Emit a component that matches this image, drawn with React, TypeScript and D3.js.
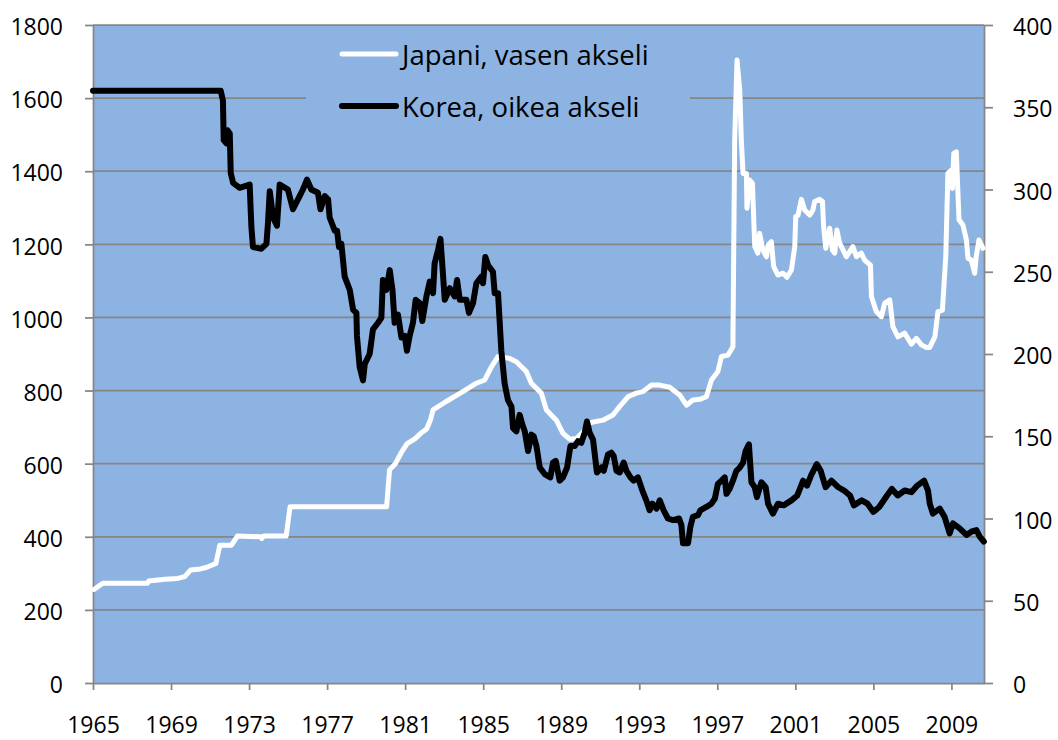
import React, { useEffect, useRef } from 'react';
import * as d3 from 'd3';

// tick labels
const xTickYears = [1965, 1969, 1973, 1977, 1981, 1985, 1989, 1993, 1997, 2001, 2005, 2009];
const leftTicks = [0, 200, 400, 600, 800, 1000, 1200, 1400, 1600, 1800];
const rightTicks = [0, 50, 100, 150, 200, 250, 300, 350, 400];
const legendLabels = ['Japani, vasen akseli', 'Korea, oikea akseli'];

// Japani (left axis)
const japanYears = [
  1965.05, 1965.5, 1967.8, 1967.85, 1968.7, 1969.35, 1969.7, 1970.0, 1970.5, 1970.8,
  1971.3, 1971.5, 1972.1, 1972.4, 1973.6, 1973.65, 1973.75, 1974.9, 1975.1, 1980.05,
  1980.2, 1980.5, 1980.8, 1981.1, 1981.5, 1981.8, 1982.1, 1982.3, 1982.43, 1983.1,
  1983.96, 1984.65, 1985.08, 1985.42, 1985.76, 1986.36, 1986.7, 1987.21, 1987.47, 1987.98,
  1988.24, 1988.75, 1989.09, 1989.43, 1989.78, 1990.12, 1990.46, 1991.14, 1991.65, 1991.99,
  1992.42, 1992.85, 1993.19, 1993.62, 1994.05, 1994.56, 1995.07, 1995.42, 1995.75, 1996.1,
  1996.44, 1996.7, 1997.03, 1997.21, 1997.55, 1997.8, 1997.89, 1998.01, 1998.15, 1998.23,
  1998.32, 1998.49, 1998.52, 1998.66, 1998.8, 1998.92, 1999.08, 1999.17, 1999.34, 1999.52,
  1999.6, 1999.77, 1999.89, 2000.11, 2000.37, 2000.57, 2000.8, 2000.97, 2001.02, 2001.14,
  2001.31, 2001.48, 2001.74, 2001.9, 2001.99, 2002.25, 2002.39, 2002.45, 2002.56, 2002.76,
  2002.9, 2003.02, 2003.13, 2003.27, 2003.62, 2003.95, 2004.13, 2004.38, 2004.55, 2004.85,
  2004.9, 2005.15, 2005.41, 2005.58, 2005.84, 2006.0, 2006.26, 2006.6, 2006.95, 2007.2,
  2007.46, 2007.72, 2007.89, 2008.15, 2008.31, 2008.54, 2008.71, 2008.82, 2009.0, 2009.05,
  2009.12, 2009.25, 2009.39, 2009.59, 2009.77, 2009.85, 2010.02, 2010.19, 2010.27, 2010.41,
  2010.62,
];
const japanValues = [
  256, 273, 273, 279, 284, 286, 291, 309, 312, 316,
  327, 377, 377, 402, 400, 395, 402, 402, 482, 482,
  583, 600, 630, 655, 668, 683, 695, 720, 747, 770,
  797, 820, 829, 865, 893, 888, 879, 852, 820, 793,
  747, 719, 683, 667, 669, 687, 712, 719, 733, 756,
  783, 793, 797, 815, 815, 809, 788, 760, 774, 776,
  783, 829, 852, 893, 897, 920, 1485, 1704, 1622, 1485,
  1394, 1394, 1299, 1376, 1367, 1194, 1176, 1230, 1184, 1166,
  1198, 1207, 1139, 1116, 1121, 1110, 1130, 1194, 1276, 1280,
  1323, 1294, 1280, 1294, 1317, 1323, 1317, 1248, 1189, 1244,
  1184, 1176, 1239, 1203, 1166, 1194, 1166, 1176, 1157, 1143,
  1057, 1016, 1002, 1039, 1048, 975, 947, 957, 927, 943,
  925, 918, 918, 947, 1016, 1020, 1166, 1394, 1403, 1353,
  1449, 1453, 1267, 1253, 1212, 1162, 1157, 1121, 1166, 1212,
  1189,
];

// Korea (right axis)
const koreaYears = [
  1965.0, 1971.55, 1971.66, 1971.7, 1971.84, 1971.89, 1972.01, 1972.06, 1972.18, 1972.52,
  1973.03, 1973.12, 1973.2, 1973.63, 1973.89, 1973.97, 1974.06, 1974.23, 1974.43, 1974.57,
  1974.99, 1975.25, 1975.59, 1975.76, 1975.97, 1976.19, 1976.53, 1976.66, 1976.88, 1977.05,
  1977.13, 1977.39, 1977.51, 1977.61, 1977.73, 1977.9, 1978.16, 1978.33, 1978.5, 1978.53,
  1978.67, 1978.84, 1978.93, 1979.18, 1979.35, 1979.61, 1979.78, 1979.86, 1980.04, 1980.21,
  1980.35, 1980.46, 1980.63, 1980.81, 1980.98, 1981.09, 1981.23, 1981.4, 1981.54, 1981.75,
  1981.88, 1982.09, 1982.26, 1982.43, 1982.51, 1982.68, 1982.81, 1983.03, 1983.29, 1983.54,
  1983.66, 1983.8, 1984.14, 1984.27, 1984.48, 1984.65, 1984.91, 1984.99, 1985.11, 1985.25,
  1985.5, 1985.59, 1985.76, 1985.93, 1986.1, 1986.27, 1986.45, 1986.53, 1986.7, 1986.87,
  1987.01, 1987.13, 1987.3, 1987.47, 1987.59, 1987.73, 1987.9, 1988.15, 1988.44, 1988.58,
  1988.72, 1988.92, 1989.09, 1989.3, 1989.47, 1989.69, 1989.86, 1990.03, 1990.2, 1990.32,
  1990.46, 1990.63, 1990.83, 1991.06, 1991.18, 1991.4, 1991.57, 1991.69, 1991.83, 1992.0,
  1992.2, 1992.34, 1992.55, 1992.71, 1992.93, 1993.16, 1993.36, 1993.53, 1993.67, 1993.88,
  1994.05, 1994.25, 1994.47, 1994.73, 1995.04, 1995.16, 1995.24, 1995.5, 1995.62, 1995.75,
  1996.01, 1996.13, 1996.44, 1996.7, 1996.87, 1997.03, 1997.21, 1997.38, 1997.47, 1997.63,
  1997.8, 1997.98, 1998.15, 1998.32, 1998.45, 1998.62, 1998.75, 1998.92, 1999.03, 1999.26,
  1999.48, 1999.6, 1999.85, 2000.11, 2000.4, 2000.8, 2001.1, 2001.4, 2001.6, 2001.8,
  2002.1, 2002.3, 2002.55, 2002.85, 2003.2, 2003.5, 2003.8, 2004.0, 2004.4, 2004.7,
  2005.0, 2005.3, 2005.7, 2005.95, 2006.25, 2006.6, 2006.95, 2007.25, 2007.6, 2007.8,
  2007.89, 2008.05, 2008.4, 2008.65, 2008.91, 2009.08, 2009.42, 2009.77, 2010.02, 2010.28,
  2010.45, 2010.66,
];
const koreaValues = [
  360, 360, 354, 330, 328, 336, 334, 310, 304, 301,
  303, 277, 265, 264, 267, 280, 299, 283, 278, 303,
  300, 288, 296, 300, 306, 300, 298, 288, 296, 294,
  283, 275, 275, 265, 267, 247, 239, 227, 225, 211,
  192, 184, 194, 200, 215, 219, 222, 245, 239, 251,
  239, 219, 224, 210, 211, 202, 211, 219, 233, 231,
  220, 235, 244, 237, 255, 263, 270, 233, 240, 235,
  245, 233, 233, 225, 231, 243, 247, 243, 259, 254,
  250, 237, 237, 202, 182, 172, 168, 155, 153, 163,
  157, 153, 141, 151, 150, 144, 131, 127, 125, 134,
  135, 123, 125, 131, 144, 144, 147, 146, 152, 159,
  152, 148, 128, 131, 129, 139, 140, 138, 129, 128,
  134, 129, 125, 123, 125, 117, 111, 105, 109, 106,
  111, 105, 100, 99, 100, 96, 85, 85, 95, 101,
  102, 105, 107, 109, 112, 121, 123, 125, 115, 118,
  123, 129, 131, 134, 141, 145, 122, 119, 113, 122,
  119, 109, 103, 109, 108, 111, 114, 123, 120, 126,
  133, 129, 119, 123, 119, 117, 114, 108, 111, 109,
  104, 107, 114, 118, 114, 117, 116, 120, 123, 117,
  109, 103, 106, 101, 91, 97, 94, 90, 92, 93,
  89, 86,
];

const FONT = "'Open Sans', 'Noto Sans', sans-serif";
const PLOT_BG = '#8DB3E2';
const GRID = '#868686';

export default function App() {
  const svgRef = useRef<SVGSVGElement>(null);

  useEffect(() => {
    const svg = d3.select(svgRef.current);
    svg.selectAll('*').remove();

    const left = 93, right = 984, top = 25, bottom = 683;

    const x = d3.scaleLinear().domain([1965, 2010.67]).range([left, right]);
    const yLeft = d3.scaleLinear().domain([0, 1800]).range([bottom, top]);
    const yRight = d3.scaleLinear().domain([0, 400]).range([bottom, top]);

    svg.append('rect')
      .attr('x', left).attr('y', top)
      .attr('width', right - left).attr('height', bottom - top)
      .attr('fill', PLOT_BG);

    // gridlines
    svg.append('g').selectAll('line')
      .data(leftTicks.filter((t) => t > 0))
      .enter()
      .append('line')
      .attr('x1', left).attr('x2', right)
      .attr('y1', (d) => yLeft(d)).attr('y2', (d) => yLeft(d))
      .attr('stroke', GRID).attr('stroke-width', 1.75);

    // legend box hides gridlines behind it
    svg.append('rect')
      .attr('x', 306).attr('y', 27)
      .attr('width', 384).attr('height', 103)
      .attr('fill', PLOT_BG);

    const styleAxis = (g) => {
      g.attr('font-family', FONT).attr('font-size', 23);
      g.selectAll('path, line').attr('stroke', GRID).attr('stroke-width', 1.75);
      g.selectAll('text').attr('fill', '#000');
    };

    const xAxis = svg.append('g')
      .attr('transform', `translate(0,${bottom})`)
      .call(d3.axisBottom(x).tickValues(xTickYears).tickFormat(d3.format('d')).tickSize(7).tickSizeOuter(0));
    styleAxis(xAxis);
    xAxis.selectAll('text').attr('y', 50).attr('dy', null);

    const lAxis = svg.append('g')
      .attr('transform', `translate(${left},0)`)
      .call(d3.axisLeft(yLeft).tickValues(leftTicks).tickFormat(d3.format('d')).tickSize(8).tickPadding(22).tickSizeOuter(0));
    styleAxis(lAxis);
    lAxis.selectAll('text').attr('dy', '0.42em');

    const rAxis = svg.append('g')
      .attr('transform', `translate(${right},0)`)
      .call(d3.axisRight(yRight).tickValues(rightTicks).tickFormat(d3.format('d')).tickSize(9).tickPadding(20).tickSizeOuter(0));
    styleAxis(rAxis);
    rAxis.selectAll('text').attr('dy', '0.42em');

    const japan = japanYears.map((yr, i) => [yr, japanValues[i]]);
    const korea = koreaYears.map((yr, i) => [yr, koreaValues[i]]);

    const lineLeft = d3.line().x((d) => x(d[0])).y((d) => yLeft(d[1]));
    const lineRight = d3.line().x((d) => x(d[0])).y((d) => yRight(d[1]));

    svg.append('path')
      .datum(japan)
      .attr('d', lineLeft)
      .attr('fill', 'none')
      .attr('stroke', '#fff')
      .attr('stroke-width', 5)
      .attr('stroke-linejoin', 'round')
      .attr('stroke-linecap', 'round');

    svg.append('path')
      .datum(korea)
      .attr('d', lineRight)
      .attr('fill', 'none')
      .attr('stroke', '#000')
      .attr('stroke-width', 6)
      .attr('stroke-linejoin', 'round')
      .attr('stroke-linecap', 'round');

    // legend
    const legendColors = ['#fff', '#000'];
    const legend = svg.append('g');
    legendLabels.forEach((label, i) => {
      const ly = 54 + i * 52;
      legend.append('line')
        .attr('x1', 342).attr('x2', 396)
        .attr('y1', ly).attr('y2', ly)
        .attr('stroke', legendColors[i])
        .attr('stroke-width', i === 0 ? 5 : 6)
        .attr('stroke-linecap', 'round');
      legend.append('text')
        .attr('x', 402).attr('y', ly + 11)
        .attr('font-family', FONT).attr('font-size', 27.5)
        .attr('fill', '#000')
        .text(label);
    });
  }, []);

  return (
    <svg ref={svgRef} width={1058} height={740} style={{ position: 'absolute', left: 0, top: 0, background: '#fff' }} />
  );
}
